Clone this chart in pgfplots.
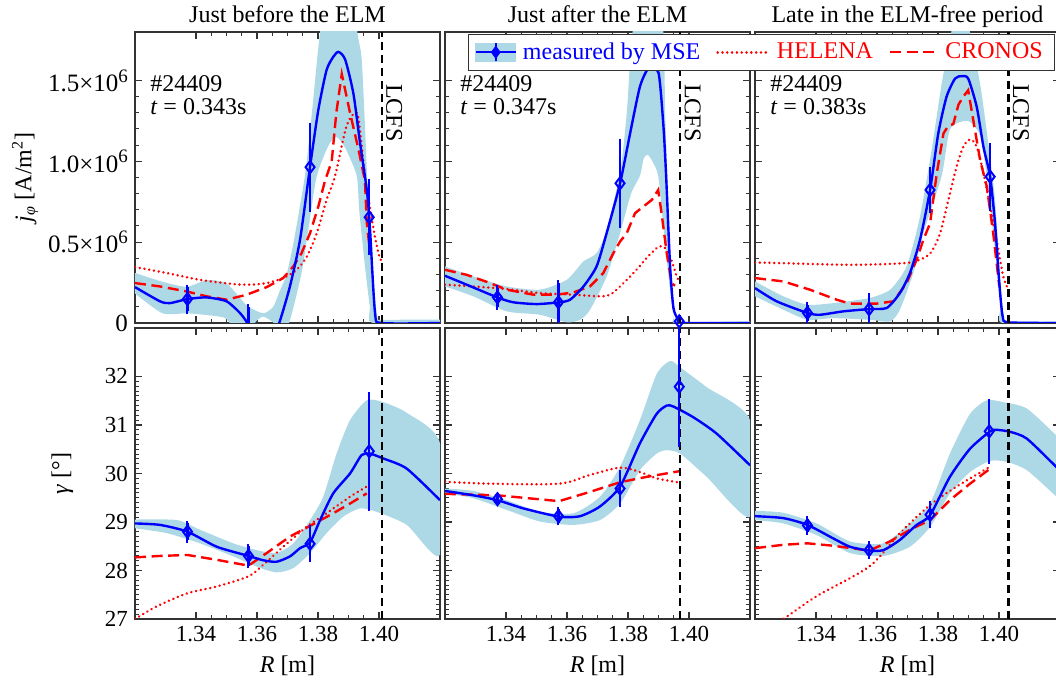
\documentclass[border=0pt]{standalone}
\usepackage{pgfplots}
\pgfplotsset{compat=1.18}
\usepackage{fontspec}
\setmainfont{Liberation Serif}
\definecolor{bandblue}{RGB}{173,216,230}
\definecolor{mblue}{RGB}{0,0,255}
\definecolor{mred}{RGB}{255,0,0}
\newcommand{\sixe}{10\raisebox{0.8ex}{\fontsize{9.5}{9.5}\selectfont 6}}
\tikzset{
  meas/.style={mblue, line width=1.2pt},
  helena/.style={mred, line width=1.35pt, dash pattern=on 0.01pt off 2.4pt, line cap=round},
  cronos/.style={mred, line width=1.2pt, dash pattern=on 5.5pt off 2.8pt},
  lcfs/.style={black, line width=1.1pt, dash pattern=on 4pt off 2.5pt},
  band/.style={fill=bandblue, draw=none},
  lcfslab/.style={rotate=-90, anchor=south, font=\fontsize{12}{14}\selectfont, inner sep=2pt},
  shot/.style={anchor=north west, align=left, font=\fontsize{12}{11.5}\selectfont, inner sep=0pt},
}
\pgfplotsset{
  every axis title shift=0pt,
  panel/.style={scale only axis, width=152.5pt, height=145.5pt,
    xmin=1.32, xmax=1.42, xtick={1.34,1.36,1.38,1.40}, minor x tick num=3,
    tick align=inside, axis line style={black!80, line width=0.6pt},
    major tick style={black!80, line width=0.6pt}, minor tick style={black!80, line width=0.5pt},
    major tick length=3.5pt, minor tick length=1.8pt,
    tick label style={font=\fontsize{11.5}{13}\selectfont},
    label style={font=\fontsize{12}{14}\selectfont},
    title style={font=\fontsize{12}{14}\selectfont, at={(0.5,1)}, anchor=base, yshift=4.8pt},
    anchor=south west},
  toprow/.style={panel, ymin=0, ymax=1.8, ytick={0,0.5,1,1.5}, minor y tick num=4, xticklabels={}},
  botrow/.style={panel, ymin=27, ymax=33, ytick={27,28,29,30,31,32}, minor y tick num=9,
     xticklabels={1.34,1.36,1.38,1.40}, xlabel={\textit{R} [m]}},
  pts/.style={only marks, mblue, mark=diamond, mark size=3pt, mark options={line width=1pt},
     error bars/.cd, y dir=both, y explicit, error bar style={mblue, line width=1.1pt},
     error mark options={mblue, mark size=1.2pt, line width=1pt}},
}
\begin{document}
\begin{tikzpicture}
% ================= BOTTOM LEFT
\begin{axis}[botrow, at={(67.5pt,32pt)}, yticklabels={27,28,29,30,31,32}, ylabel={\textit{γ} [°]},
  ylabel style={yshift=9pt}]
\addplot[band, smooth, tension=0.4] coordinates {
(1.32,29.05) (1.3337,29.04) (1.3413,28.84) (1.3522,28.56) (1.3599,28.42) (1.3664,28.36) (1.3719,28.56) (1.3774,29.04) (1.3817,29.52) (1.3861,30.41) (1.3905,31.10) (1.396,31.51) (1.4014,31.47) (1.4091,31.25) (1.42,30.62)
(1.42,28.32) (1.4091,28.94) (1.3992,29.21) (1.3938,29.28) (1.3883,29.11) (1.3828,28.77) (1.3774,28.36) (1.3719,28.05) (1.3664,27.96) (1.3599,28.08) (1.3522,28.29) (1.3413,28.56) (1.3304,28.77) (1.32,28.87)};
\addplot[helena, smooth] coordinates {(1.32,27.0) (1.3271,27.26) (1.3372,27.53) (1.3468,27.67) (1.3572,27.88) (1.3621,28.12) (1.3686,28.49) (1.3763,28.90) (1.3828,29.18) (1.3905,29.52) (1.396,29.73)};
\addplot[cronos] coordinates {(1.32,28.27) (1.3282,28.30) (1.3372,28.32) (1.3468,28.22) (1.3572,28.10) (1.3632,28.36) (1.3708,28.70) (1.3774,28.92) (1.385,29.18) (1.3905,29.38) (1.396,29.59)};
\addplot[meas, smooth, tension=0.4] coordinates {(1.32,28.97) (1.3282,28.94) (1.3372,28.80) (1.3468,28.49) (1.3572,28.30) (1.3621,28.21) (1.3664,28.18) (1.3708,28.29) (1.3741,28.46) (1.3774,28.58) (1.3807,29.04) (1.385,29.59) (1.3905,30.0) (1.3943,30.38) (1.397,30.41) (1.4014,30.31) (1.4091,30.10) (1.42,29.45)};
\addplot[pts] coordinates {(1.3372,28.80) +- (0,0.18) (1.3572,28.30) +- (0,0.2) (1.3774,28.55) +- (0,0.33) (1.3968,30.46) +- (0,1.18)};
\addplot[lcfs] coordinates {(1.4009,27) (1.4009,33)};
\end{axis}
% ================= BOTTOM MIDDLE
\begin{axis}[botrow, at={(222.5pt,32pt)}, yticklabels={}]
\addplot[band, smooth, tension=0.4] coordinates {
(1.32,29.69) (1.3293,29.64) (1.3402,29.45) (1.3511,29.21) (1.3621,29.18) (1.3708,29.52) (1.3774,30.14) (1.3839,31.10) (1.3894,32.05) (1.3938,32.32) (1.3971,32.19) (1.4058,31.78) (1.42,31.10)
(1.42,29.11) (1.4058,29.93) (1.3971,30.41) (1.3927,30.48) (1.3894,30.41) (1.3839,30.07) (1.3774,29.38) (1.3708,29.04) (1.3621,28.94) (1.3511,29.01) (1.3402,29.25) (1.3293,29.49) (1.32,29.59)};
\addplot[helena, smooth] coordinates {(1.32,29.83) (1.3347,29.79) (1.3574,29.79) (1.3675,29.97) (1.3774,30.12) (1.3839,30.03) (1.3894,29.90) (1.3971,29.81)};
\addplot[cronos] coordinates {(1.32,29.58) (1.3372,29.55) (1.3574,29.43) (1.3675,29.62) (1.3774,29.82) (1.3861,29.93) (1.3971,30.05)};
\addplot[meas, smooth, tension=0.4] coordinates {(1.32,29.64) (1.3293,29.55) (1.3372,29.45) (1.3457,29.28) (1.3574,29.11) (1.3643,29.12) (1.3708,29.32) (1.3774,29.73) (1.3839,30.62) (1.3894,31.23) (1.3927,31.40) (1.3949,31.38) (1.4014,31.16) (1.4091,30.82) (1.42,30.17)};
\addplot[lcfs] coordinates {(1.3971,27) (1.3971,33)};
\addplot[pts] coordinates {(1.3372,29.47) +- (0,0.07) (1.3572,29.12) +- (0,0.14) (1.3774,29.69) +- (0,0.33) (1.3968,31.79) +- (0,1.2)};
\end{axis}
% ================= BOTTOM RIGHT
\begin{axis}[botrow, at={(377.5pt,32pt)}, yticklabels={}]
\addplot[band, smooth, tension=0.4] coordinates {
(1.32,29.23) (1.3293,29.19) (1.3402,28.97) (1.3511,28.60) (1.3621,28.56) (1.3708,28.97) (1.3774,29.38) (1.3839,30.41) (1.3905,31.23) (1.396,31.51) (1.4014,31.47) (1.4091,31.34) (1.4187,30.79) (1.42,30.70)
(1.42,29.45) (1.4187,29.53) (1.4091,30.07) (1.4025,30.24) (1.3971,30.26) (1.3905,30.03) (1.3839,29.59) (1.3774,28.90) (1.3708,28.49) (1.3621,28.30) (1.3511,28.36) (1.3402,28.73) (1.3293,28.97) (1.32,29.04)};
\addplot[helena, smooth] coordinates {(1.32,26.64) (1.3293,27.0) (1.3402,27.47) (1.3574,28.08) (1.3675,28.77) (1.3774,29.35) (1.3861,29.73) (1.3971,30.14)};
\addplot[cronos] coordinates {(1.32,28.46) (1.3293,28.53) (1.3372,28.56) (1.3457,28.51) (1.3574,28.41) (1.3643,28.60) (1.3708,28.84) (1.3774,29.04) (1.3839,29.45) (1.3905,29.79) (1.3971,30.10)};
\addplot[meas, smooth, tension=0.4] coordinates {(1.32,29.12) (1.3293,29.08) (1.3372,28.94) (1.3457,28.66) (1.3511,28.49) (1.3574,28.41) (1.3621,28.42) (1.3675,28.63) (1.373,28.94) (1.3774,29.14) (1.3839,29.93) (1.3905,30.51) (1.3971,30.87) (1.3992,30.90) (1.4036,30.86) (1.4091,30.72) (1.4187,30.14) (1.42,30.05)};
\addplot[pts] coordinates {(1.3372,28.93) +- (0,0.14) (1.3574,28.42) +- (0,0.13) (1.3774,29.15) +- (0,0.23) (1.3968,30.87) +- (0,0.62)};
\addplot[lcfs] coordinates {(1.4031,27) (1.4031,33)};
\end{axis}
% ================= TOP LEFT
\begin{axis}[toprow, at={(67.5pt,180pt)}, title={Just before the ELM},
  yticklabels={0,{0.5×\sixe},{1.0×\sixe},{1.5×\sixe}},
  yticklabel style={font=\fontsize{12.5}{14}\selectfont},
  ylabel={\textit{j}\textsubscript{\textit{φ}} [A/m\textsuperscript{2}]}, ylabel style={yshift=-2pt}]
\addplot[band, smooth, tension=0.4] coordinates {
(1.32,0.31) (1.329,0.255) (1.337,0.224) (1.3435,0.265) (1.350,0.245) (1.3566,0.11) (1.362,0.06) (1.3653,0.10) (1.3675,0.2) (1.3697,0.3) (1.372,0.5) (1.3757,0.91) (1.378,1.3) (1.3807,1.8) (1.385,2.3) (1.39,2.3) (1.3929,1.8) (1.3943,1.64) (1.3954,1.22) (1.3961,0.91) (1.397,0.6) (1.3985,0.2) (1.3995,0.03) (1.401,0.02) (1.42,0.02)
(1.42,0) (1.398,0) (1.397,0.1) (1.3954,0.35) (1.3935,0.7) (1.3927,0.91) (1.389,1.08) (1.3861,1.15) (1.3835,1.1) (1.3796,0.91) (1.377,0.6) (1.3745,0.3) (1.3705,0) (1.3675,-0.05) (1.3655,0) (1.362,0.04) (1.3593,0) (1.357,-0.1) (1.353,-0.05) (1.3496,0.03) (1.343,0.05) (1.337,0.06) (1.329,0.06) (1.32,0.183)};
\addplot[helena, smooth] coordinates {(1.32,0.346) (1.3304,0.309) (1.3413,0.267) (1.3522,0.241) (1.3577,0.237) (1.3632,0.247) (1.3686,0.278) (1.373,0.329) (1.3763,0.41) (1.3796,0.556) (1.3828,0.761) (1.3856,0.91) (1.3894,1.22) (1.3927,1.30) (1.394,1.15) (1.3954,0.91) (1.397,0.72) (1.3985,0.55) (1.40,0.42) (1.4009,0.38)};
\addplot[cronos] coordinates {(1.32,0.247) (1.3282,0.226) (1.3369,0.195) (1.3435,0.165) (1.3501,0.144) (1.3566,0.175) (1.3632,0.222) (1.3686,0.278) (1.3719,0.35) (1.3746,0.432) (1.3774,0.556) (1.3801,0.72) (1.3823,0.88) (1.3845,1.0) (1.386,1.3) (1.3878,1.54) (1.3905,1.30) (1.3932,1.08) (1.3954,0.88) (1.396,0.62) (1.3971,0.43)};
\addplot[meas, smooth, tension=0.4] coordinates {(1.320,0.222) (1.3282,0.134) (1.3315,0.123) (1.3372,0.148) (1.3435,0.158) (1.350,0.134) (1.3544,0.062) (1.3568,0) (1.359,-0.1) (1.362,-0.14) (1.365,-0.1) (1.3673,0) (1.3708,0.226) (1.3741,0.514) (1.3774,0.967) (1.3801,1.317) (1.3828,1.564) (1.385,1.646) (1.3867,1.677) (1.3889,1.63) (1.3916,1.42) (1.3938,1.111) (1.396,0.823) (1.397,0.597) (1.3987,0.062) (1.4009,0) (1.42,0)};
\addplot[pts] coordinates {(1.3372,0.148) +- (0,0.075) (1.3572,-0.1) +- (0,0.2) (1.3774,0.964) +- (0,0.26) (1.3968,0.654) +- (0,0.22)};
\addplot[lcfs] coordinates {(1.4009,0) (1.4009,1.8)};
\node[lcfslab] at (axis cs:1.4009,1.30) {LCFS};
\node[shot] at (rel axis cs:0.049,0.852) {\#24409\\\textit{t} = 0.343s};
\end{axis}
% ================= TOP MIDDLE
\begin{axis}[toprow, at={(222.5pt,180pt)}, title={Just after the ELM}, yticklabels={}]
\addplot[band, smooth, tension=0.4] coordinates {
(1.32,0.35) (1.3293,0.288) (1.3402,0.226) (1.3511,0.206) (1.3599,0.267) (1.3654,0.381) (1.3697,0.432) (1.373,0.576) (1.3774,0.93) (1.3796,1.3) (1.3815,1.8) (1.386,2.1) (1.389,2.1) (1.3916,1.8) (1.3922,1.3) (1.3929,0.9) (1.3938,0.45) (1.3949,0.1) (1.3965,0.01) (1.42,0.01)
(1.42,0) (1.396,0) (1.3949,0.04) (1.3932,0.3) (1.3916,0.6) (1.3899,0.91) (1.388,1.0) (1.3865,1.04) (1.3852,1.02) (1.3839,0.91) (1.381,0.8) (1.3774,0.556) (1.373,0.288) (1.3675,0.08) (1.3643,0.02) (1.3599,0.004) (1.3511,0.051) (1.3402,0.072) (1.3293,0.165) (1.32,0.226)};
\addplot[helena, smooth] coordinates {(1.32,0.237) (1.3293,0.226) (1.3402,0.21) (1.3511,0.185) (1.3621,0.175) (1.3708,0.165) (1.3741,0.175) (1.3774,0.226) (1.3818,0.309) (1.3861,0.401) (1.3894,0.463) (1.3916,0.473) (1.3938,0.41) (1.396,0.288) (1.3971,0.247)};
\addplot[cronos] coordinates {(1.32,0.329) (1.3271,0.298) (1.3348,0.247) (1.3402,0.206) (1.3490,0.175) (1.3566,0.175) (1.3621,0.189) (1.3675,0.226) (1.3719,0.309) (1.3752,0.432) (1.3774,0.504) (1.3796,0.556) (1.3823,0.679) (1.385,0.72) (1.3878,0.761) (1.3899,0.823) (1.391,0.679) (1.3927,0.432) (1.3943,0.247) (1.3954,0.23)};
\addplot[meas, smooth, tension=0.4] coordinates {(1.32,0.292) (1.3271,0.237) (1.3372,0.158) (1.3424,0.128) (1.3501,0.117) (1.3574,0.128) (1.361,0.144) (1.3654,0.226) (1.3697,0.35) (1.373,0.556) (1.3774,0.864) (1.3807,1.173) (1.3839,1.461) (1.3867,1.574) (1.39,1.548) (1.3916,1.222) (1.3925,0.91) (1.3938,0.35) (1.3949,0.093) (1.3965,0.02) (1.3981,0) (1.42,0)};
\addplot[pts] coordinates {(1.3372,0.158) +- (0,0.06) (1.3572,0.128) +- (0,0.12) (1.3774,0.864) +- (0,0.26) (1.3968,0.01) +- (0,0.02)};
\addplot[lcfs] coordinates {(1.3971,0) (1.3971,1.8)};
\node[lcfslab] at (axis cs:1.3971,1.30) {LCFS};
\node[shot] at (rel axis cs:0.049,0.852) {\#24409\\\textit{t} = 0.347s};
\end{axis}
% ================= TOP RIGHT
\begin{axis}[toprow, at={(377.5pt,180pt)}, title={Late in the ELM-free period}, yticklabels={},
  legend columns=3,
  legend style={at={(0.984,0.993)}, anchor=north east, draw=black!80, fill=white,
    font=\fontsize{12}{13}\selectfont, inner xsep=3pt, inner ysep=2pt,
    nodes={inner ysep=2pt, inner xsep=3pt},
    /tikz/every even column/.append style={column sep=5pt}},
  legend cell align=left]
\addlegendimage{legend image code/.code={
  \fill[bandblue] (0pt,-4.5pt) rectangle (20pt,4.5pt);
  \draw[mblue, line width=1.2pt] (0pt,0pt) -- (20pt,0pt);
  \draw[mblue, line width=1.1pt] (10pt,-4.5pt) -- (10pt,4.5pt);
  \fill[mblue] (10pt,3pt) -- (12.2pt,0pt) -- (10pt,-3pt) -- (7.8pt,0pt) -- cycle;}}
\addlegendentry{\textcolor{mblue}{measured by MSE}}
\addlegendimage{legend image code/.code={\draw[helena] (0pt,0pt) -- (26pt,0pt);}}
\addlegendentry{\textcolor{mred}{HELENA}}
\addlegendimage{legend image code/.code={\draw[cronos] (0pt,0pt) -- (24pt,0pt);}}
\addlegendentry{\textcolor{mred}{CRONOS}}
\addplot[band, smooth, tension=0.4] coordinates {
(1.32,0.257) (1.3293,0.165) (1.3372,0.113) (1.3457,0.123) (1.3574,0.154) (1.3643,0.206) (1.3697,0.35) (1.3741,0.658) (1.3779,1.07) (1.3812,1.48) (1.3839,1.75) (1.386,1.95) (1.389,1.95) (1.3905,1.8) (1.3938,1.48) (1.3965,1.11) (1.3987,0.76) (1.4003,0.29) (1.4014,0.06) (1.403,0.01) (1.42,0.01)
(1.42,0) (1.401,0) (1.4005,0.1) (1.3995,0.3) (1.3978,0.6) (1.396,0.91) (1.3938,1.16) (1.3898,1.25) (1.384,1.2) (1.3812,0.91) (1.3752,0.556) (1.3719,0.309) (1.3675,0.082) (1.3643,0.01) (1.3574,0.02) (1.3457,0.03) (1.3372,0.02) (1.3293,0.082) (1.32,0.165)};
\addplot[helena, smooth] coordinates {(1.32,0.374) (1.3293,0.37) (1.3402,0.364) (1.3511,0.36) (1.3621,0.364) (1.3708,0.374) (1.3752,0.401) (1.3779,0.442) (1.3807,0.556) (1.3834,0.761) (1.3861,0.967) (1.3883,1.09) (1.3905,1.135) (1.3927,1.09) (1.3949,0.926) (1.3971,0.72) (1.3992,0.514) (1.4014,0.288) (1.4031,0.206)};
\addplot[cronos] coordinates {(1.32,0.278) (1.3293,0.257) (1.3380,0.206) (1.3468,0.144) (1.3511,0.12) (1.3599,0.12) (1.3654,0.134) (1.3697,0.247) (1.373,0.391) (1.3752,0.514) (1.3774,0.617) (1.3796,0.926) (1.3818,1.173) (1.3834,1.22) (1.385,1.23) (1.3867,1.35) (1.3883,1.40) (1.3899,1.44) (1.391,1.317) (1.3938,1.008) (1.396,0.844) (1.3981,0.556) (1.4001,0.226)};
\addplot[meas, smooth, tension=0.4] coordinates {(1.32,0.216) (1.3271,0.134) (1.3372,0.062) (1.3413,0.051) (1.349,0.072) (1.3574,0.086) (1.3632,0.093) (1.3675,0.185) (1.3708,0.309) (1.3741,0.514) (1.3774,0.823) (1.3801,1.173) (1.3828,1.399) (1.3856,1.512) (1.3878,1.527) (1.3899,1.512) (1.3927,1.337) (1.3949,1.09) (1.3971,0.905) (1.3987,0.617) (1.4001,0.247) (1.4012,0.041) (1.4031,0.004) (1.42,0)};
\addplot[pts] coordinates {(1.3372,0.062) +- (0,0.05) (1.3574,0.086) +- (0,0.085) (1.3774,0.823) +- (0,0.13) (1.3971,0.905) +- (0,0.195)};
\addplot[lcfs] coordinates {(1.4031,0) (1.4031,1.8)};
\node[lcfslab] at (axis cs:1.4031,1.30) {LCFS};
\node[shot] at (rel axis cs:0.049,0.852) {\#24409\\\textit{t} = 0.383s};
\end{axis}
\pgfresetboundingbox
\useasboundingbox (0,0) rectangle (528pt,341.5pt);
\end{tikzpicture}
\end{document}
